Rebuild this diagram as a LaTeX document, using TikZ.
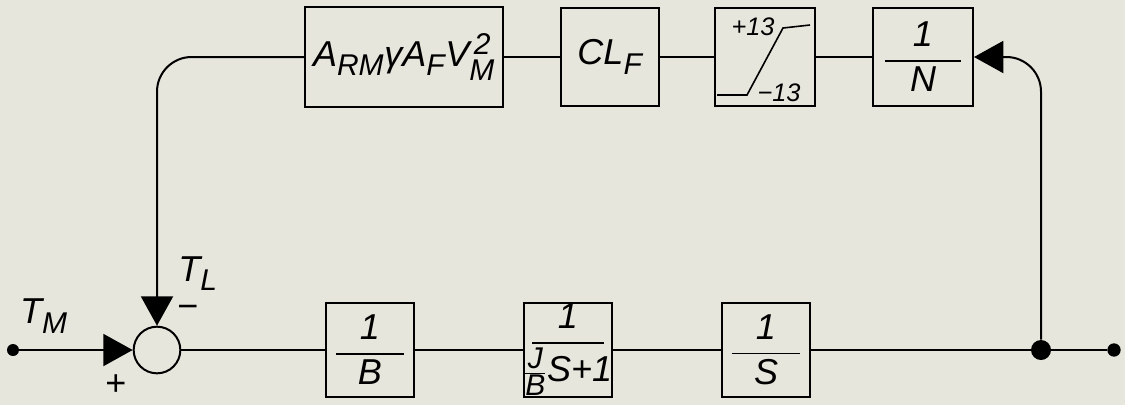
\documentclass[tikz,border=0pt]{standalone}
\usepackage{tikz}
\usetikzlibrary{arrows.meta}
\usepackage{amsmath}
\usepackage{fontspec}
\setmainfont{Liberation Sans}
\usepackage[italic]{mathastext}

\definecolor{papercol}{RGB}{231,230,221}
\newcommand{\wfrac}[3][1.9em]{\dfrac{\textit{#2}}{\makebox[#1]{$#3$}}}

\tikzset{
  blockbox/.style={draw, line width=1.5pt, minimum width=66pt, minimum height=70pt, inner sep=0pt},
  sumnode/.style={draw, circle, line width=1.5pt, minimum size=35pt, inner sep=0pt},
  wire/.style={line width=1.5pt},
  bigtri/.style={-{Triangle[length=22pt,width=24pt]}},
  tapdot/.style={circle, fill, inner sep=0pt, minimum size=#1},
  smalltxt/.style={font=\fontsize{19}{21}\selectfont\itshape},
}

\begin{document}
\begin{tikzpicture}[x=0.75pt,y=0.75pt,yscale=-1,xscale=1,font=\fontsize{27}{30}\selectfont]
%Shape: Background
\fill[papercol] (0,0) rectangle (1125,405);

% Forward path
\node[tapdot=9pt] (in) at (13,350) {};
\node[sumnode] (sum) at (157,350) {};
\node[blockbox] (invB) at (370,350) {$\wfrac{1}{B}$};
\node[blockbox] (lag) at (568,350) {$\wfrac[2em]{1}{\frac{J}{B}S\textit{+1}}$};
\node[blockbox] (integ) at (766,350) {$\wfrac{1}{S}$};
\node[tapdot=15pt] (split) at (1041,350) {};
\node[tapdot=10pt] (out) at (1114,350) {};

% Feedback path
\node[blockbox, minimum width=148pt, minimum height=75pt] (gain) at (404,57) {$A_{RM}\textit{γ}A_F V_{M}^{\,\textit{2}}$};
\node[blockbox, minimum width=74pt, minimum height=73pt] (clf) at (610,57) {$CL_F$};
\node[blockbox, minimum width=75pt, minimum height=73pt] (sat) at (765,57) {};
\node[blockbox, minimum width=75pt, minimum height=74pt] (invN) at (923,57) {$\wfrac[2.1em]{1}{N}$};

%Straight Lines
\draw[wire, bigtri] (in) -- (sum);
\draw[wire] (sum) -- (invB) -- (lag) -- (integ) -- (split) -- (out);
\draw[wire] (gain) -- (clf) -- (sat) -- (invN);
\draw[wire, bigtri, rounded corners=26pt] (split) |- (invN);
\draw[wire, bigtri, rounded corners=26pt] (gain) -| (sum);

%Shape: saturation curve
\draw[wire, line width=1.2pt] (717,95) -- (747,95) -- (783,28) -- (810,25);

% Text Node
\node[smalltxt] (satup) at (753,27) {+13};
% Text Node
\node[smalltxt] (satlo) at (779,93) {−13};
% Text Node
\node (tm) at (44,316) {$T_M$};
% Text Node
\node (tl) at (198,274) {$T_L$};
% Text Node
\node (minus) at (188,312) {−};
% Text Node
\node (plus) at (116,385) {+};

\end{tikzpicture}
\end{document}
